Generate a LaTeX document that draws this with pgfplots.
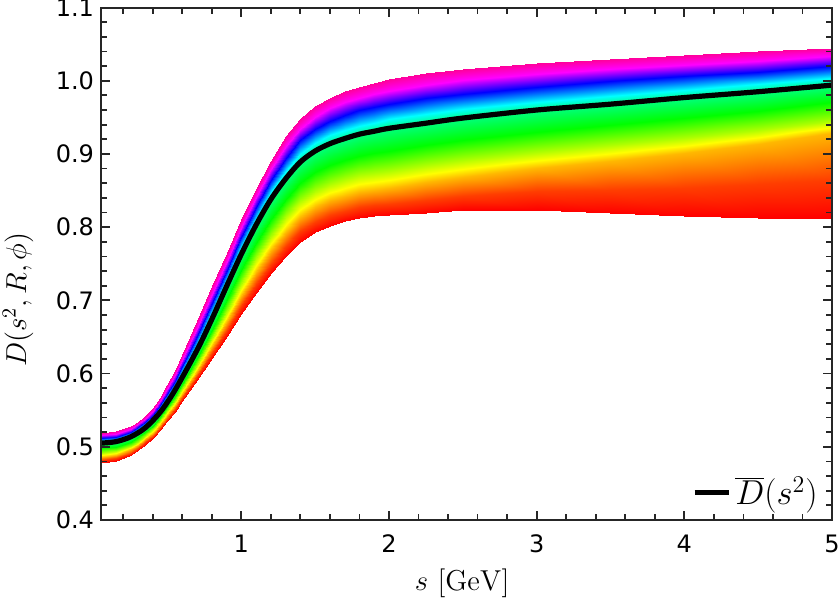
\documentclass[border=0pt]{standalone}
\usepackage[no-math]{fontspec}
\usepackage{pgfplots}
\pgfplotsset{compat=1.18}
\newfontfamily\dejavu{DejaVu Sans}
\begin{document}
\begin{tikzpicture}
\useasboundingbox (-50.5pt,-43pt) rectangle (369pt,260pt);
\begin{axis}[
  at={(0,0)}, anchor=south west,
  scale only axis, width=365.5pt, height=256.25pt,
  xmin=0.05, xmax=5, ymin=0.4, ymax=1.1,
  xtick={1,2,3,4,5},
  minor xtick={0.2,0.4,0.6,0.8,1.2,1.4,1.6,1.8,2.2,2.4,2.6,2.8,3.2,3.4,3.6,3.8,4.2,4.4,4.6,4.8},
  ytick={0.4,0.5,0.6,0.7,0.8,0.9,1.0,1.1},
  minor y tick num=4,
  tick align=inside, tick pos=both,
  major tick length=4.5pt, minor tick length=3pt,
  tick style={black!85, line width=0.9pt},
  axis line style={black!85, line width=1pt},
  ticklabel style={font=\dejavu\fontsize{12}{14}\selectfont},
  /pgf/number format/assume math mode=true,
  yticklabel style={/pgf/number format/.cd, fixed, fixed zerofill, precision=1},
  xticklabel style={yshift=-4pt},
  every axis x label/.style={at={(axis description cs:0.494,-0.123)}, anchor=center},
  every axis y label/.style={at={(axis description cs:-0.1135,0.43)}, anchor=center, rotate=90},
  label style={font=\fontsize{14.5}{17}\selectfont},
  xlabel={$s\ [\mathrm{GeV}]$},
  ylabel={$D(s^2, R, \phi)$},
  axis on top,
  colormap={rb}{rgb255(0cm)=(255,0,0) rgb255(10cm)=(255,255,0) rgb255(20cm)=(0,255,0) rgb255(30cm)=(0,255,255) rgb255(40cm)=(0,0,255) rgb255(50cm)=(255,0,255) rgb255(54cm)=(255,0,153)},
  point meta min=0, point meta max=54,
  legend style={draw=none, fill=none, at={(rel axis cs:1,0)}, anchor=south east, xshift=-2pt, yshift=2pt, font=\fontsize{17.5}{20}\selectfont},
  legend cell align=left,
]
\addplot[surf, shader=interp, mesh/rows=10, mesh/cols=31, point meta=\thisrow{c}, forget plot] table[x=s, y=v] {
s v c
0.05 0.478 0
0.15 0.481 0
0.25 0.489 0
0.3 0.495 0
0.35 0.503 0
0.4 0.512 0
0.45 0.523 0
0.5 0.535 0
0.55 0.548 0
0.6 0.562 0
0.7 0.591 0
0.8 0.621 0
0.9 0.651 0
1.0 0.681 0
1.1 0.710 0
1.2 0.737 0
1.3 0.761 0
1.4 0.780 0
1.5 0.793 0
1.6 0.802 0
1.7 0.808 0
1.8 0.812 0
1.9 0.815 0
2.0 0.817 0
2.25 0.820 0
2.5 0.823 0
3.0 0.824 0
3.5 0.820 0
4.0 0.815 0
4.5 0.813 0
5.0 0.812 0
0.05 0.4815 2.4
0.15 0.4844 2.4
0.25 0.4922 2.4
0.3 0.4981 2.4
0.35 0.5060 2.4
0.4 0.5150 2.4
0.45 0.5261 2.4
0.5 0.5384 2.4
0.55 0.5518 2.4
0.6 0.5663 2.4
0.7 0.5963 2.4
0.8 0.6279 2.4
0.9 0.6598 2.4
1.0 0.6917 2.4
1.1 0.7221 2.4
1.2 0.7501 2.4
1.3 0.7747 2.4
1.4 0.7942 2.4
1.5 0.8074 2.4
1.6 0.8166 2.4
1.7 0.8227 2.4
1.8 0.8270 2.4
1.9 0.8301 2.4
2.0 0.8323 2.4
2.25 0.8375 2.4
2.5 0.8427 2.4
3.0 0.8489 2.4
3.5 0.8511 2.4
4.0 0.8533 2.4
4.5 0.8583 2.4
5.0 0.8648 2.4
0.05 0.4864 7.2
0.15 0.4891 7.2
0.25 0.4966 7.2
0.3 0.5024 7.2
0.35 0.5101 7.2
0.4 0.5191 7.2
0.45 0.5304 7.2
0.5 0.5431 7.2
0.55 0.5570 7.2
0.6 0.5722 7.2
0.7 0.6037 7.2
0.8 0.6374 7.2
0.9 0.6721 7.2
1.0 0.7064 7.2
1.1 0.7388 7.2
1.2 0.7683 7.2
1.3 0.7936 7.2
1.4 0.8138 7.2
1.5 0.8274 7.2
1.6 0.8367 7.2
1.7 0.8430 7.2
1.8 0.8477 7.2
1.9 0.8510 7.2
2.0 0.8536 7.2
2.25 0.8612 7.2
2.5 0.8690 7.2
3.0 0.8811 7.2
3.5 0.8903 7.2
4.0 0.9009 7.2
4.5 0.9136 7.2
5.0 0.9285 7.2
0.05 0.4918 13.2
0.15 0.4943 13.2
0.25 0.5015 13.2
0.3 0.5072 13.2
0.35 0.5147 13.2
0.4 0.5237 13.2
0.45 0.5352 13.2
0.5 0.5483 13.2
0.55 0.5628 13.2
0.6 0.5788 13.2
0.7 0.6119 13.2
0.8 0.6480 13.2
0.9 0.6857 13.2
1.0 0.7228 13.2
1.1 0.7574 13.2
1.2 0.7885 13.2
1.3 0.8146 13.2
1.4 0.8356 13.2
1.5 0.8496 13.2
1.6 0.8591 13.2
1.7 0.8656 13.2
1.8 0.8707 13.2
1.9 0.8742 13.2
2.0 0.8772 13.2
2.25 0.8845 13.2
2.5 0.8919 13.2
3.0 0.9033 13.2
3.5 0.9118 13.2
4.0 0.9214 13.2
4.5 0.9322 13.2
5.0 0.9449 13.2
0.05 0.4980 20
0.15 0.5002 20
0.25 0.5071 20
0.3 0.5128 20
0.35 0.5200 20
0.4 0.5290 20
0.45 0.5408 20
0.5 0.5542 20
0.55 0.5695 20
0.6 0.5864 20
0.7 0.6213 20
0.8 0.6602 20
0.9 0.7013 20
1.0 0.7417 20
1.1 0.7788 20
1.2 0.8117 20
1.3 0.8387 20
1.4 0.8607 20
1.5 0.8751 20
1.6 0.8849 20
1.7 0.8916 20
1.8 0.8971 20
1.9 0.9008 20
2.0 0.9043 20
2.25 0.9116 20
2.5 0.9190 20
3.0 0.9305 20
3.5 0.9391 20
4.0 0.9489 20
4.5 0.9589 20
5.0 0.9703 20
0.05 0.505 25
0.15 0.507 25
0.25 0.5135 25
0.3 0.519 25
0.35 0.526 25
0.4 0.535 25
0.45 0.547 25
0.5 0.561 25
0.55 0.577 25
0.6 0.595 25
0.7 0.632 25
0.8 0.674 25
0.9 0.719 25
1.0 0.763 25
1.1 0.803 25
1.2 0.838 25
1.3 0.866 25
1.4 0.889 25
1.5 0.904 25
1.6 0.914 25
1.7 0.921 25
1.8 0.927 25
1.9 0.931 25
2.0 0.935 25
2.25 0.942 25
2.5 0.949 25
3.0 0.960 25
3.5 0.968 25
4.0 0.977 25
4.5 0.985 25
5.0 0.994 25
0.05 0.5075 30
0.15 0.5095 30
0.25 0.5161 30
0.3 0.5217 30
0.35 0.5289 30
0.4 0.5382 30
0.45 0.5506 30
0.5 0.5651 30
0.55 0.5819 30
0.6 0.6006 30
0.7 0.6392 30
0.8 0.6821 30
0.9 0.7273 30
1.0 0.7715 30
1.1 0.8118 30
1.2 0.8475 30
1.3 0.8764 30
1.4 0.8996 30
1.5 0.9150 30
1.6 0.9253 30
1.7 0.9327 30
1.8 0.9387 30
1.9 0.9429 30
2.0 0.9471 30
2.25 0.9542 30
2.5 0.9611 30
3.0 0.9715 30
3.5 0.9792 30
4.0 0.9874 30
4.5 0.9949 30
5.0 1.0032 30
0.05 0.5120 40
0.15 0.5140 40
0.25 0.5208 40
0.3 0.5265 40
0.35 0.5340 40
0.4 0.5440 40
0.45 0.5570 40
0.5 0.5725 40
0.55 0.5905 40
0.6 0.6105 40
0.7 0.6520 40
0.8 0.6965 40
0.9 0.7420 40
1.0 0.7865 40
1.1 0.8275 40
1.2 0.8645 40
1.3 0.8950 40
1.4 0.9185 40
1.5 0.9345 40
1.6 0.9455 40
1.7 0.9535 40
1.8 0.9595 40
1.9 0.9640 40
2.0 0.9685 40
2.25 0.9760 40
2.5 0.9825 40
3.0 0.9920 40
3.5 0.9990 40
4.0 1.0060 40
4.5 1.0125 40
5.0 1.0195 40
0.05 0.5158 50
0.15 0.5178 50
0.25 0.5247 50
0.3 0.5306 50
0.35 0.5383 50
0.4 0.5489 50
0.45 0.5624 50
0.5 0.5787 50
0.55 0.5978 50
0.6 0.6189 50
0.7 0.6628 50
0.8 0.7087 50
0.9 0.7544 50
1.0 0.7992 50
1.1 0.8407 50
1.2 0.8788 50
1.3 0.9107 50
1.4 0.9344 50
1.5 0.9510 50
1.6 0.9625 50
1.7 0.9710 50
1.8 0.9770 50
1.9 0.9818 50
2.0 0.9866 50
2.25 0.9944 50
2.5 1.0006 50
3.0 1.0093 50
3.5 1.0157 50
4.0 1.0217 50
4.5 1.0274 50
5.0 1.0333 50
0.05 0.519 54
0.15 0.521 54
0.25 0.528 54
0.3 0.534 54
0.35 0.542 54
0.4 0.553 54
0.45 0.567 54
0.5 0.584 54
0.55 0.604 54
0.6 0.626 54
0.7 0.672 54
0.8 0.719 54
0.9 0.765 54
1.0 0.810 54
1.1 0.852 54
1.2 0.891 54
1.3 0.924 54
1.4 0.948 54
1.5 0.965 54
1.6 0.977 54
1.7 0.986 54
1.8 0.992 54
1.9 0.997 54
2.0 1.002 54
2.25 1.010 54
2.5 1.016 54
3.0 1.024 54
3.5 1.030 54
4.0 1.035 54
4.5 1.040 54
5.0 1.045 54
};
\addplot[black, line width=2.6pt, smooth] coordinates {
(0.05,0.505) (0.15,0.507) (0.25,0.5135) (0.35,0.526) (0.45,0.547) (0.55,0.577)
(0.7,0.632) (0.8,0.674) (0.9,0.719) (1.0,0.763) (1.1,0.803) (1.2,0.838)
(1.3,0.866) (1.4,0.889) (1.5,0.904) (1.6,0.914) (1.7,0.921) (1.8,0.927)
(1.9,0.931) (2.0,0.935) (2.25,0.942) (2.5,0.949) (3.0,0.960) (3.5,0.968)
(4.0,0.977) (4.5,0.985) (5.0,0.994)
};
\addlegendentry{$\overline{D}(s^2)$}
\end{axis}
\end{tikzpicture}
\end{document}
